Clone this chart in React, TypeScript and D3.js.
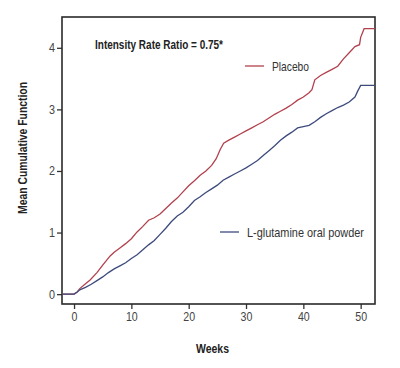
import React, { useEffect, useRef } from 'react';
import * as d3 from 'd3';

// Mean cumulative function by week, per arm
const placeboWeeks = [-2, 0, 0.5, 1, 2, 2.8, 4, 5, 6.3, 7, 8, 9, 10, 11, 12, 13, 14, 15, 16, 17, 18, 19, 20, 21, 22, 23, 24, 24.8, 25.5, 26.1, 27, 28, 29, 30, 31, 32, 33, 34, 35, 36, 37, 38, 39, 40, 41, 41.5, 42, 43, 44, 45, 46, 47, 48, 49, 49.8, 50, 50.6, 52.5];
const placeboValues = [0, 0, 0.03, 0.09, 0.17, 0.23, 0.35, 0.47, 0.62, 0.68, 0.75, 0.82, 0.9, 1.01, 1.1, 1.2, 1.24, 1.3, 1.39, 1.48, 1.56, 1.66, 1.76, 1.84, 1.93, 2.0, 2.09, 2.2, 2.35, 2.45, 2.5, 2.55, 2.6, 2.65, 2.7, 2.75, 2.8, 2.86, 2.92, 2.97, 3.02, 3.08, 3.15, 3.2, 3.27, 3.32, 3.48, 3.55, 3.6, 3.65, 3.7, 3.82, 3.92, 4.02, 4.05, 4.17, 4.31, 4.31];

const glutamineWeeks = [-2, 0, 0.5, 1, 2, 3, 4, 5, 6, 7, 8, 9, 10, 11, 12, 13, 14, 15, 16, 17, 18, 19, 20, 21, 22, 23, 24, 25, 26, 27, 28, 29, 30, 31, 32, 33, 34, 35, 36, 37, 38, 39, 40, 41, 42, 43, 44, 45, 46, 47, 48, 49, 49.5, 50, 52.5];
const glutamineValues = [0, 0, 0.03, 0.07, 0.11, 0.16, 0.22, 0.28, 0.35, 0.41, 0.46, 0.51, 0.58, 0.64, 0.72, 0.8, 0.87, 0.97, 1.07, 1.18, 1.27, 1.33, 1.42, 1.52, 1.58, 1.65, 1.71, 1.77, 1.85, 1.9, 1.95, 2.0, 2.05, 2.11, 2.17, 2.25, 2.33, 2.41, 2.5, 2.57, 2.63, 2.7, 2.72, 2.74, 2.8, 2.87, 2.93, 2.98, 3.03, 3.07, 3.12, 3.2, 3.3, 3.39, 3.39];

const xTicks = [0, 10, 20, 30, 40, 50];
const yTicks = [0, 1, 2, 3, 4];

const font = "'Liberation Sans', Arial, sans-serif";

const App = () => {
  const svgRef = useRef<SVGSVGElement>(null);

  useEffect(() => {
    const width = 400;
    const height = 368;
    const left = 62;
    const right = 375;
    const top = 17;
    const bottom = 304;

    const x = d3.scaleLinear().domain([-2.1, 52.5]).range([left, right]);
    const y = d3.scaleLinear().domain([-0.16, 4.5]).range([bottom, top]);

    const svg = d3.select(svgRef.current)
      .attr('width', width)
      .attr('height', height)
      .attr('viewBox', [0, 0, width, height].join(' '))
      .style('font-family', font);
    svg.selectAll('*').remove();

    svg.append('rect').attr('width', width).attr('height', height).attr('fill', '#fff');

    // the type is condensed, so squeeze each label to its width
    const squeeze = (sel: any, perChar: number) =>
      sel.attr('textLength', (d: any, i: number, n: any) => n[i].textContent.length * perChar)
        .attr('lengthAdjust', 'spacingAndGlyphs');

    // bottom axis
    const gx = svg.append('g')
      .attr('transform', `translate(0,${bottom})`)
      .call(d3.axisBottom(x).tickValues(xTicks).tickFormat(d3.format('d')).tickSize(5).tickSizeOuter(0).tickPadding(3));
    gx.select('.domain').remove();
    gx.selectAll('line').attr('stroke', '#333').attr('stroke-width', 1.3);
    gx.selectAll('text').attr('font-size', 12.5).attr('fill', '#444').attr('font-family', font).call(squeeze, 5.9);

    // left axis
    const gy = svg.append('g')
      .attr('transform', `translate(${left},0)`)
      .call(d3.axisLeft(y).tickValues(yTicks).tickFormat(d3.format('d')).tickSize(5).tickSizeOuter(0).tickPadding(2));
    gy.select('.domain').remove();
    gy.selectAll('line').attr('stroke', '#333').attr('stroke-width', 1.3);
    gy.selectAll('text').attr('font-size', 12.5).attr('fill', '#444').attr('font-family', font).call(squeeze, 6);

    // frame
    svg.append('rect')
      .attr('x', left)
      .attr('y', top)
      .attr('width', right - left)
      .attr('height', bottom - top)
      .attr('fill', 'none')
      .attr('stroke', '#2a2a2a')
      .attr('stroke-width', 1.6);

    const line = d3.line<[number, number]>()
      .x(d => x(d[0]))
      .y(d => y(d[1]));

    const series = [
      { weeks: placeboWeeks, values: placeboValues, color: '#b2414d' },
      { weeks: glutamineWeeks, values: glutamineValues, color: '#3d4b7c' },
    ];
    series.forEach(s => {
      svg.append('path')
        .datum(s.weeks.map((w, i) => [w, s.values[i]] as [number, number]))
        .attr('fill', 'none')
        .attr('stroke', s.color)
        .attr('stroke-width', 1.3)
        .attr('d', line);
    });

    // annotation
    svg.append('text')
      .attr('x', 95)
      .attr('y', 48.5)
      .attr('font-size', 12.5)
      .attr('font-weight', 'bold')
      .attr('fill', '#222')
      .attr('textLength', 128)
      .attr('lengthAdjust', 'spacingAndGlyphs')
      .text('Intensity Rate Ratio = 0.75*');

    // legend
    const legend = [
      { label: 'Placebo', color: '#b2414d', x: 245, y: 66, w: 37 },
      { label: 'L-glutamine oral powder', color: '#3d4b7c', x: 220, y: 232, w: 117 },
    ];
    legend.forEach(l => {
      svg.append('line')
        .attr('x1', l.x).attr('x2', l.x + 19)
        .attr('y1', l.y).attr('y2', l.y)
        .attr('stroke', l.color).attr('stroke-width', 1.3);
      svg.append('text')
        .attr('x', l.x + 27)
        .attr('y', l.y + 4.5)
        .attr('font-size', 13)
        .attr('fill', '#333')
        .attr('textLength', l.w)
        .attr('lengthAdjust', 'spacingAndGlyphs')
        .text(l.label);
    });

    // axis titles
    svg.append('text')
      .attr('x', 212.5)
      .attr('y', 353)
      .attr('text-anchor', 'middle')
      .attr('font-size', 12.5)
      .attr('font-weight', 'bold')
      .attr('fill', '#222')
      .attr('textLength', 33)
      .attr('lengthAdjust', 'spacingAndGlyphs')
      .text('Weeks');

    svg.append('text')
      .attr('transform', `translate(26.5,148) rotate(-90)`)
      .attr('text-anchor', 'middle')
      .attr('font-size', 12.5)
      .attr('font-weight', 'bold')
      .attr('fill', '#222')
      .attr('textLength', 132)
      .attr('lengthAdjust', 'spacingAndGlyphs')
      .text('Mean Cumulative Function');
  }, []);

  return <svg ref={svgRef} style={{ position: 'absolute', left: 0, top: 0 }}></svg>;
};

export default App;
